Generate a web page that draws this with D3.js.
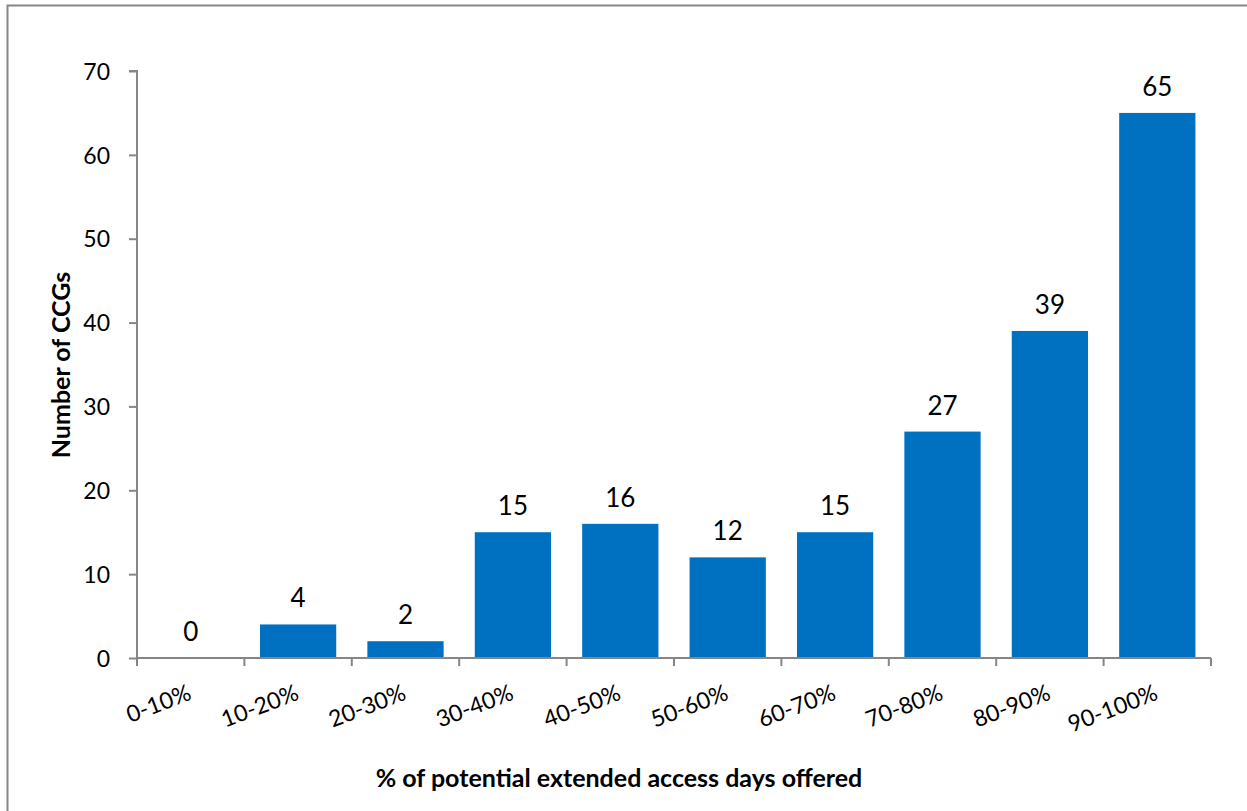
<!DOCTYPE html>
<html>
<head>
<meta charset="utf-8">
<script src="https://cdn.jsdelivr.net/npm/d3@7"></script>
<style>
  html, body { margin: 0; padding: 0; background: #fff; }
  svg { display: block; font-family: Lato, "Open Sans", sans-serif; }
</style>
</head>
<body>
<svg id="chart" width="1247" height="811"></svg>
<script>
// Distribution of CCGs by share of potential extended access days offered
const categories = ["0-10%", "10-20%", "20-30%", "30-40%", "40-50%", "50-60%", "60-70%", "70-80%", "80-90%", "90-100%"];
const ccgCounts = [0, 4, 2, 15, 16, 12, 15, 27, 39, 65];
const yTicks = [0, 10, 20, 30, 40, 50, 60, 70];

const svg = d3.select("#chart");
const W = 1247, H = 811;
const plotLeft = 137, plotRight = 1211, plotTop = 71, plotBottom = 658;
const axisColor = "#868686";

// outer chart frame
svg.append("rect")
  .attr("x", 7.5).attr("y", 5.5)
  .attr("width", W + 20).attr("height", H + 20)
  .attr("fill", "none").attr("stroke", axisColor).attr("stroke-width", 2);

const x = d3.scaleBand().domain(categories).range([plotLeft, plotRight]).paddingInner(0.29).paddingOuter(0.145);
const y = d3.scaleLinear().domain([0, 70]).range([plotBottom, plotTop]);

// bars
svg.append("g").selectAll("rect")
  .data(categories)
  .join("rect")
  .attr("x", d => x(d))
  .attr("width", x.bandwidth())
  .attr("y", (d, i) => y(ccgCounts[i]))
  .attr("height", (d, i) => y(0) - y(ccgCounts[i]))
  .attr("fill", "#0070C0");

// value labels
svg.append("g").selectAll("text")
  .data(categories)
  .join("text")
  .attr("x", d => x(d) + x.bandwidth() / 2)
  .attr("y", (d, i) => y(ccgCounts[i]) - 17)
  .attr("text-anchor", "middle")
  .attr("font-size", 26)
  .attr("fill", "#000")
  .text((d, i) => ccgCounts[i]);

// y axis
const yAxis = d3.axisLeft(y).tickValues(yTicks).tickSize(8).tickPadding(19);
const gy = svg.append("g").attr("transform", `translate(${plotLeft},0)`).call(yAxis);
gy.select(".domain").attr("stroke", axisColor).attr("stroke-width", 2).attr("d", `M-8,${plotTop}H0V${plotBottom}`);
gy.selectAll(".tick line").attr("stroke", axisColor).attr("stroke-width", 2);
gy.selectAll(".tick text").attr("font-size", 23).attr("fill", "#000").attr("font-family", "Lato, sans-serif").attr("dy", "0.36em");

// x axis: line with boundary ticks between categories
const step = x.step();
const boundaries = d3.range(categories.length + 1).map(i => plotLeft + i * step);
const gx = svg.append("g");
gx.append("line").attr("x1", plotLeft).attr("x2", plotRight).attr("y1", plotBottom).attr("y2", plotBottom)
  .attr("stroke", axisColor).attr("stroke-width", 2);
gx.selectAll("line.b").data(boundaries).join("line").attr("class", "b")
  .attr("x1", d => d).attr("x2", d => d).attr("y1", plotBottom).attr("y2", plotBottom + 8)
  .attr("stroke", axisColor).attr("stroke-width", 2);

// rotated category labels
gx.selectAll("text").data(categories).join("text")
  .attr("transform", d => `translate(${x(d) + x.bandwidth() / 2 + 2},${plotBottom + 41}) rotate(-21)`)
  .attr("text-anchor", "end")
  .attr("font-size", 23)
  .attr("fill", "#000")
  .text(d => d);

// axis titles
svg.append("text")
  .attr("transform", `translate(70,365) rotate(-90)`)
  .attr("text-anchor", "middle")
  .attr("font-size", 25).attr("font-weight", "bold")
  .text("Number of CCGs");

svg.append("text")
  .attr("x", 619).attr("y", 787)
  .attr("text-anchor", "middle")
  .attr("font-size", 25).attr("font-weight", "bold")
  .text("% of potential extended access days offered");
</script>
</body>
</html>
